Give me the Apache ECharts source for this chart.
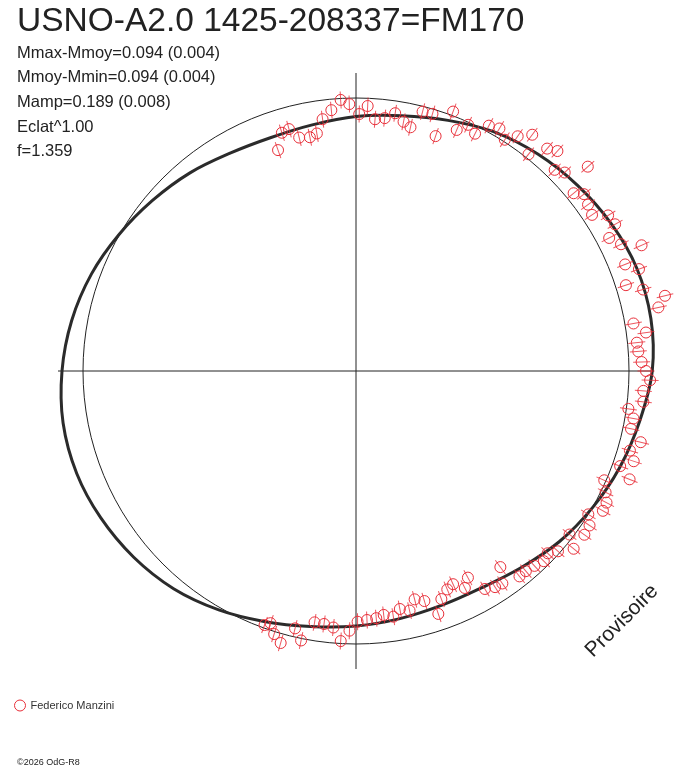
<!DOCTYPE html>
<html>
<head>
	<meta charset="utf-8">
	<title>FM170</title>
	<style>
		html, body { margin: 0; padding: 0; background: #fff; }
	</style>
</head>
<body>

<div id="graph" style="width: 688px; height: 768px;"></div>
<script type="text/javascript" src="https://cdn.jsdelivr.net/npm/echarts@6/dist/echarts.min.js"></script>
<script type="text/javascript">
// phase (0..1) and magnitude offset from the mean (positive = brighter)
const obsPhase = [
    0.304, 0.298, 0.293, 0.288, 0.281, 0.276, 0.271, 0.265, 0.259, 0.254,
    0.248, 0.243, 0.238, 0.232, 0.226, 0.220, 0.215, 0.210, 0.204, 0.198,
    0.193, 0.187, 0.182, 0.176, 0.171, 0.165, 0.159, 0.154, 0.148, 0.143,
    0.137, 0.132, 0.115, 0.126, 0.121, 0.109, 0.105, 0.099, 0.093, 0.088,
    0.082, 0.077, 0.071, 0.066, 0.060, 0.055, 0.049, 0.044, 0.038, 0.033,
    0.027, 0.021, 0.016, 0.011, 0.005, 0.000, 0.995, 0.989, 0.983, 0.978,
    0.973, 0.967, 0.961, 0.955, 0.950, 0.945, 0.940, 0.934, 0.928, 0.923,
    0.918, 0.912, 0.907, 0.901, 0.896, 0.891, 0.884, 0.879, 0.874, 0.868,
    0.862, 0.857, 0.851, 0.846, 0.841, 0.835, 0.829, 0.824, 0.818, 0.813,
    0.807, 0.802, 0.796, 0.790, 0.785, 0.779, 0.774, 0.768, 0.763, 0.757,
    0.751, 0.746, 0.741, 0.736, 0.730, 0.724, 0.718, 0.713, 0.707, 0.702,
    0.698, 0.695
];
const obsMag = [
    -0.155, -0.094, -0.088, -0.131, -0.139, -0.129, -0.076, -0.044, -0.006, -0.024,
    -0.064, -0.031, -0.082, -0.074, -0.049, -0.077, -0.093, -0.021, -0.019, -0.100,
    0.016, -0.047, -0.010, -0.030, 0.024, 0.035, 0.008, 0.048, 0.087, 0.016,
    0.081, 0.101, 0.144, 0.039, 0.060, 0.032, 0.062, 0.050, 0.040, 0.093,
    0.099, 0.052, 0.083, 0.156, 0.066, 0.111, 0.041, 0.102, 0.180, 0.144,
    0.034, 0.078, 0.037, 0.040, 0.051, 0.068, 0.085, 0.060, 0.064, 0.008,
    0.034, 0.032, 0.082, 0.049, 0.076, 0.031, 0.085, -0.007, 0.018, 0.040,
    0.043, 0.000, 0.028, 0.032, -0.016, 0.032, -0.009, -0.034, -0.023, -0.035,
    -0.042, -0.042, -0.118, -0.060, -0.064, -0.079, -0.152, -0.121, -0.155, -0.145,
    -0.118, -0.066, -0.132, -0.149, -0.110, -0.124, -0.098, -0.110, -0.100, -0.095,
    -0.089, -0.053, -0.010, -0.062, -0.072, -0.073, 0.008, -0.034, 0.037, 0.010,
    -0.027, -0.012
];

// fitted light curve, read every 10 degrees of phase (closed: last = first)
const fitPhase = [
    0, 0.028, 0.056, 0.083, 0.111, 0.139, 0.167, 0.194, 0.222, 0.25, 0.278, 0.306,
    0.333, 0.361, 0.389, 0.417, 0.444, 0.472, 0.5, 0.528, 0.556, 0.583, 0.611, 0.639,
    0.667, 0.694, 0.722, 0.75, 0.778, 0.806, 0.833, 0.861, 0.889, 0.917, 0.944, 0.972, 1
];
const fitMag = [
    0.093, 0.106, 0.104, 0.087, 0.064, 0.040, 0.012, -0.024, -0.055, -0.074, -0.092, -0.098,
    -0.086, -0.058, -0.030, 0.002, 0.035, 0.063, 0.084, 0.098, 0.098, 0.086, 0.068, 0.044,
    0.010, -0.025, -0.054, -0.072, -0.086, -0.094, -0.090, -0.065, -0.030, 0.001, 0.031, 0.060, 0.093
];

const starName = 'USNO-A2.0 1425-208337=FM170';
const statLines = [
    'Mmax-Mmoy=0.094 (0.004)',
    'Mmoy-Mmin=0.094 (0.004)',
    'Mamp=0.189 (0.008)',
    'Eclat^1.00',
    'f=1.359'
];
const observer = 'Federico Manzini';

(function(){
    let chart = echarts.init(document.getElementById("graph"), null, {renderer: 'canvas'});
    const red = '#e8303a', ink = '#222';
    const font = 'Liberation Sans, Arial, sans-serif';
    const center = [356, 371];

    // polar 0: data (oversized so nothing gets clipped), 1: mean circle, 2: cross hair
    const hidden = {show: false, axisLine: {show: false}, splitLine: {show: false}};
    const plain = {axisTick: {show: false}, axisLabel: {show: false}};

    chart.setOption({
        backgroundColor: '#fff',
        animation: false,
        title: [
            {
                text: starName,
                left: 17, top: 5, padding: 0,
                textStyle: {fontFamily: font, fontSize: 33.5, fontWeight: 'normal', color: ink}
            },
            {
                text: statLines.join('\n'),
                left: 17, top: 41, padding: 0,
                textStyle: {fontFamily: font, fontSize: 16.5, fontWeight: 'normal', color: ink, lineHeight: 24.6}
            }
        ],
        legend: {
            left: 14, top: 699.5, padding: 0,
            itemWidth: 11, itemHeight: 11, itemGap: 6,
            textStyle: {fontFamily: font, fontSize: 11, color: '#333'},
            data: [{
                name: observer,
                icon: 'circle',
                itemStyle: {color: 'rgba(0,0,0,0)', borderColor: red, borderWidth: 1}
            }]
        },
        polar: [
            {center: center, radius: 348},
            {center: center, radius: 273},
            {center: center, radius: 298}
        ],
        angleAxis: [
            Object.assign({polarIndex: 0, type: 'value', min: 0, max: 1, startAngle: 0, clockwise: false}, hidden, plain),
            Object.assign({polarIndex: 1, type: 'value', min: 0, max: 1, startAngle: 0, clockwise: false,
                axisLine: {show: true, lineStyle: {color: ink, width: 1}}, splitLine: {show: false}}, plain),
            Object.assign({polarIndex: 2, type: 'value', min: 0, max: 1, interval: 0.25, startAngle: 0, clockwise: false,
                axisLine: {show: false}, splitLine: {show: true, lineStyle: {color: ink, width: 1}}}, plain)
        ],
        radiusAxis: [
            // 273 px at the mean, 250 px per magnitude
            Object.assign({polarIndex: 0, type: 'value', min: -1.092, max: 0.3}, hidden),
            Object.assign({polarIndex: 1, type: 'value', min: 0, max: 1}, hidden),
            Object.assign({polarIndex: 2, type: 'value', min: 0, max: 1}, hidden)
        ],
        graphic: [
            {
                type: 'text', x: 622, y: 621, rotation: Math.PI / 4,
                style: {text: 'Provisoire', fontFamily: font, fontSize: 21, fill: ink,
                    align: 'center', verticalAlign: 'middle'}
            },
            {
                type: 'text', left: 17, top: 758,
                style: {text: '©2026 OdG-R8', fontFamily: font, fontSize: 9, fill: ink}
            }
        ],
        series: [
            {
                // fitted curve as one closed smooth outline
                name: 'fit',
                type: 'custom',
                coordinateSystem: 'polar',
                polarIndex: 0,
                silent: true,
                clip: false,
                data: fitPhase.map((p, i) => [fitMag[i], p]),
                renderItem: function (params, api) {
                    if (params.dataIndex !== 0) return;
                    let pts = [];
                    for (let i = 0; i < fitPhase.length - 1; i++) {
                        pts.push(api.coord([fitMag[i], fitPhase[i]]));
                    }
                    return {
                        type: 'polygon',
                        shape: {points: pts, smooth: 0.35},
                        style: {fill: 'none', stroke: '#2b2b2b', lineWidth: 3}
                    };
                }
            },
            {
                // radial error bar
                name: 'bar',
                type: 'scatter',
                coordinateSystem: 'polar',
                polarIndex: 0,
                symbol: 'rect',
                symbolSize: [17, 1],
                symbolRotate: v => v[1] * 360,
                itemStyle: {color: red},
                data: obsPhase.map((p, i) => [obsMag[i], p])
            },
            {
                name: observer,
                type: 'scatter',
                coordinateSystem: 'polar',
                polarIndex: 0,
                symbol: 'circle',
                symbolSize: 11,
                itemStyle: {color: 'rgba(0,0,0,0)', borderColor: red, borderWidth: 1, opacity: 1},
                data: obsPhase.map((p, i) => [obsMag[i], p])
            }
        ]
    });
})();
</script>
</body>
</html>
